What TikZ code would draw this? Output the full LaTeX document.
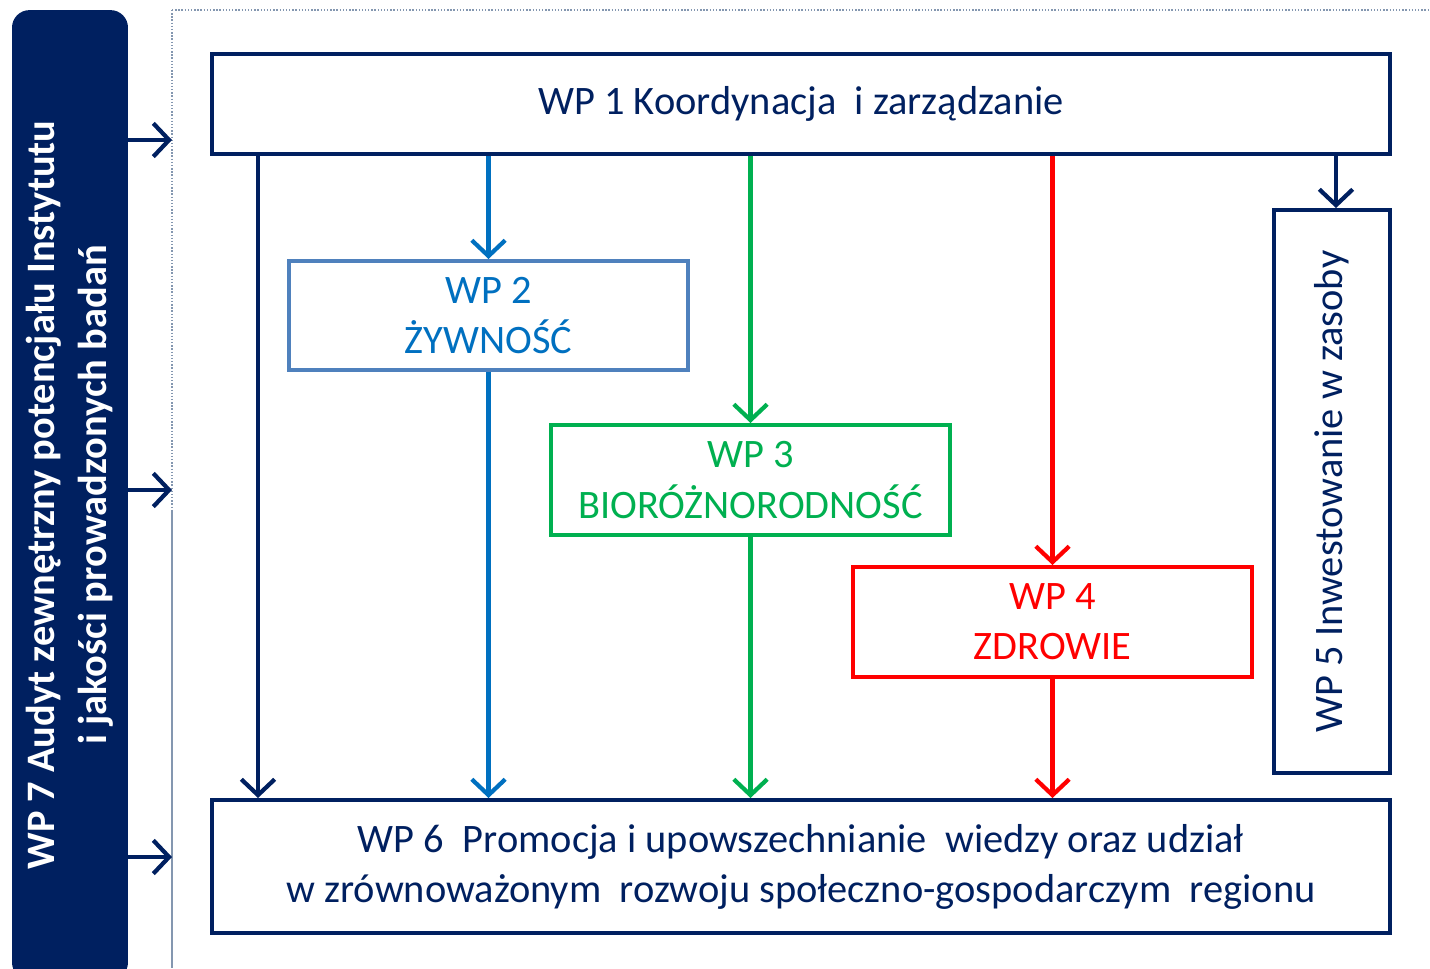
\documentclass[tikz,border=0pt]{standalone}
\usepackage{fontspec}
\setmainfont{Carlito}
\usetikzlibrary{arrows.meta}

\definecolor{wpnavy}{HTML}{002060}
\definecolor{wpblue}{HTML}{0070C0}
\definecolor{wpframe}{HTML}{4F81BD}
\definecolor{wpgreen}{HTML}{00B050}
\definecolor{wpred}{HTML}{FF0000}
\definecolor{wpgrid}{HTML}{8497B0}

\begin{document}
\begin{tikzpicture}[x=0.02cm,y=-0.02cm]
        \tikzset{wpbox/.style={draw,line width=2.3pt,fill=white,align=center,inner sep=0pt,
            font=\fontsize{23}{28.5}\selectfont}}
        \tikzset{arr/.style={line width=2.5pt,-{Straight Barb[length=9pt,width=19pt,line width=2.4pt]}}}

        \useasboundingbox (0,0) rectangle (1430,968);
        \begin{scope}
        \clip (0,0) rectangle (1430,968);

        % outer frame
        \draw[wpgrid,densely dotted,line width=0.8pt] (172,10) -- (1430,10);
        \draw[wpgrid,densely dotted,line width=0.8pt] (172,10) -- (172,510);
        \draw[wpgrid,line width=0.8pt] (172,510) -- (172,968);

        % WP 7
        \node[fill=wpnavy,rounded corners=0.35cm,minimum width=2.32cm,minimum height=19.4cm,
            inner sep=0pt] (wp7) at (70,495) {};
        \node[rotate=90,text=white,align=center,font=\fontsize{23}{29.5}\selectfont\bfseries]
            (wp7txt) at (wp7) {WP 7 Audyt zewnętrzny potencjału Instytutu\\i jakości prowadzonych badań};
        \end{scope}

        % boxes
        \node[wpbox,draw=wpnavy,text=wpnavy,minimum width=23.56cm,minimum height=2cm] (wp1) at (801,104)
            {WP 1 Koordynacja~ i zarządzanie};
        \node[wpbox,draw=wpframe,text=wpblue,minimum width=7.98cm,minimum height=2.18cm] (wp2) at (488.5,315.5)
            {WP 2\\ŻYWNOŚĆ};
        \node[wpbox,draw=wpgreen,text=wpgreen,minimum width=7.98cm,minimum height=2.2cm] (wp3) at (750.5,480)
            {WP 3\\BIORÓŻNORODNOŚĆ};
        \node[wpbox,draw=wpred,text=wpred,minimum width=7.98cm,minimum height=2.2cm] (wp4) at (1052.5,622)
            {WP 4\\ZDROWIE};
        \node[wpbox,draw=wpnavy,minimum width=2.32cm,minimum height=11.26cm] (wp5) at (1332,491.5) {};
        \node[rotate=90,text=wpnavy,font=\fontsize{23}{28.5}\selectfont] (wp5txt) at (wp5)
            {WP 5 Inwestowanie w zasoby};
        \node[wpbox,draw=wpnavy,text=wpnavy,minimum width=23.56cm,minimum height=2.66cm] (wp6) at (801,866.5)
            {WP 6~ Promocja i upowszechnianie~ wiedzy oraz udział\\w zrównoważonym~ rozwoju społeczno-gospodarczym~ regionu};

        % arrow columns
        \coordinate (c1) at (258,0);
        \coordinate (c5) at (1336,0);

        \draw[arr,wpnavy] (wp1.south -| c1) -- (wp6.north -| c1);
        \draw[arr,wpblue] (wp1.south -| wp2) -- (wp2.north);
        \draw[arr,wpblue] (wp2.south) -- (wp6.north -| wp2);
        \draw[arr,wpgreen] (wp1.south -| wp3) -- (wp3.north);
        \draw[arr,wpgreen] (wp3.south) -- (wp6.north -| wp3);
        \draw[arr,wpred] (wp1.south -| wp4) -- (wp4.north);
        \draw[arr,wpred] (wp4.south) -- (wp6.north -| wp4);
        \draw[arr,wpnavy] (wp1.south -| c5) -- (wp5.north -| c5);

        % WP 7 inputs
        \coordinate (f1) at (172,140);
        \coordinate (f2) at (172,490);
        \coordinate (f3) at (172,857);
        \foreach \i in {1,...,3} {
            \draw[arr,wpnavy] (wp7.east |- f\i) -- (f\i);
        }
\end{tikzpicture}
\end{document}
